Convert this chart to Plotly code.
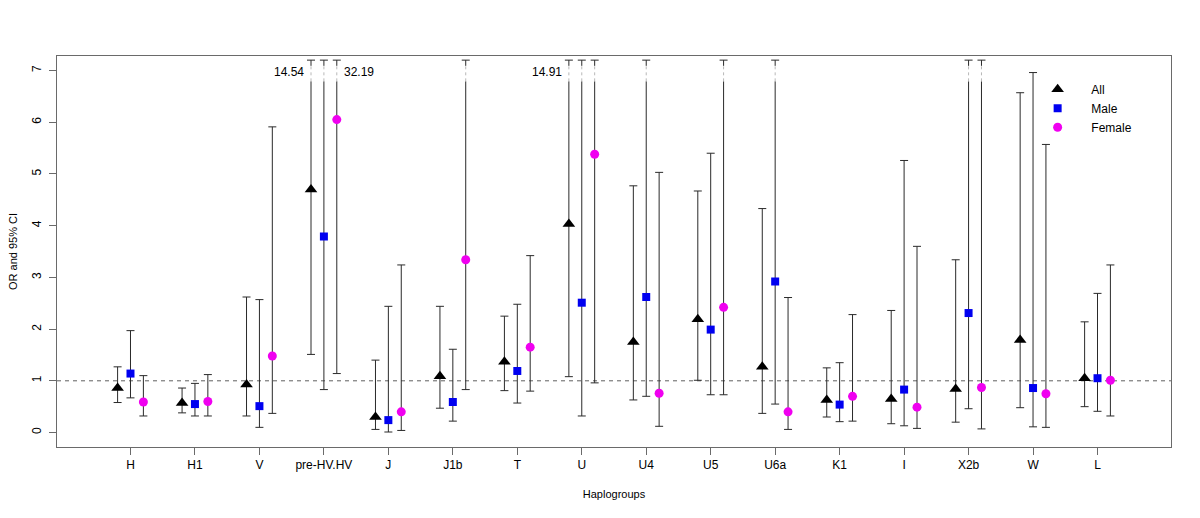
import plotly.graph_objects as go

haplogroups = ["H", "H1", "V", "pre-HV.HV", "J", "J1b", "T", "U", "U4", "U5",
               "U6a", "K1", "I", "X2b", "W", "L"]

INF = None  # upper limit beyond the plotted scale (not labelled)

all_or =    [0.86, 0.57, 0.93, 4.70, 0.30, 1.09, 1.37, 4.03, 1.75, 2.19, 1.27, 0.63, 0.65, 0.84, 1.79, 1.05]
all_lo =    [0.58, 0.38, 0.32, 1.51, 0.06, 0.47, 0.81, 1.08, 0.63, 1.01, 0.37, 0.30, 0.17, 0.20, 0.48, 0.50]
all_hi =    [1.27, 0.86, 2.62, 14.54, 1.40, 2.44, 2.25, 14.91, 4.77, 4.67, 4.33, 1.25, 2.36, 3.34, 6.57, 2.14]

male_or =   [1.14, 0.55, 0.51, 3.79, 0.24, 0.59, 1.19, 2.51, 2.62, 1.99, 2.92, 0.54, 0.83, 2.31, 0.86, 1.05]
male_lo =   [0.67, 0.32, 0.10, 0.83, 0.01, 0.22, 0.57, 0.32, 0.70, 0.73, 0.55, 0.21, 0.13, 0.46, 0.11, 0.41]
male_hi =   [1.97, 0.95, 2.57, INF, 2.44, 1.61, 2.48, INF, INF, 5.40, INF, 1.35, 5.26, INF, 6.96, 2.69]

female_or = [0.59, 0.60, 1.48, 6.05, 0.40, 3.34, 1.65, 5.38, 0.76, 2.42, 0.40, 0.70, 0.49, 0.87, 0.75, 1.01]
female_lo = [0.32, 0.32, 0.37, 1.14, 0.04, 0.83, 0.80, 0.96, 0.12, 0.73, 0.06, 0.22, 0.08, 0.07, 0.10, 0.32]
female_hi = [1.10, 1.12, 5.91, 32.19, 3.24, INF, 3.42, INF, 5.03, INF, 2.61, 2.28, 3.60, INF, 5.57, 3.24]

Y_MAX_DRAW = 7.2      # clipped upper limit drawn at this height
BREAK_LO, BREAK_HI = 6.79, 7.09
LABEL_Y = 6.98

series = [
    ("All", all_or, all_lo, all_hi, -0.2, "triangle-up", 11, "black"),
    ("Male", male_or, male_lo, male_hi, 0.0, "square", 8, "#0000F0"),
    ("Female", female_or, female_lo, female_hi, 0.2, "circle", 9, "#F000F0"),
]

FONT = "Liberation Sans, Arial, Helvetica, sans-serif"
BAR_COLOR = "#2a2a2a"
PAD = "\u00a0" * 2

fig = go.Figure()
break_x, break_y = [], []
annotations = []
for name, orv, lo, hi, off, sym, size, col in series:
    xs = [i + 1 + off for i in range(len(haplogroups))]
    up_draw = [Y_MAX_DRAW if (h is None or h > Y_MAX_DRAW) else h for h in hi]
    fig.add_trace(go.Scatter(
        x=xs, y=orv, mode="markers", name=PAD + name,
        marker=dict(symbol=sym, size=size, color=col, line=dict(width=0)),
        error_y=dict(type="data", symmetric=False,
                     array=[u - o for u, o in zip(up_draw, orv)],
                     arrayminus=[o - l for o, l in zip(orv, lo)],
                     color=BAR_COLOR, thickness=1, width=4),
        cliponaxis=False,
    ))
    for x, h in zip(xs, hi):
        if h is None or h > Y_MAX_DRAW:
            break_x += [x, x, None]
            break_y += [BREAK_LO, BREAK_HI, None]
            if h is not None:
                left = off < 0
                annotations.append(dict(
                    x=x, y=LABEL_Y, text=f"{h:.2f}", showarrow=False,
                    xanchor="right" if left else "left",
                    xshift=-5 if left else 5,
                    font=dict(family=FONT, size=12, color="black")))

fig.add_trace(go.Scatter(x=break_x, y=break_y, mode="lines",
                         line=dict(color="white", width=3),
                         showlegend=False, hoverinfo="skip"))
fig.add_trace(go.Scatter(x=break_x, y=break_y, mode="lines",
                         line=dict(color="#b8b8b8", width=1, dash="dot"),
                         showlegend=False, hoverinfo="skip"))

fig.add_shape(type="line", xref="paper", x0=0, x1=1, yref="y", y0=1, y1=1,
              line=dict(color="#606060", width=1, dash="4px,4px"), layer="below")

fig.update_layout(
    width=1200, height=518,
    margin=dict(l=57, r=29, t=56, b=71),
    paper_bgcolor="white", plot_bgcolor="white",
    font=dict(family=FONT, size=12, color="black"),
    annotations=annotations,
    showlegend=True,
    legend=dict(x=0.874, y=0.952, xanchor="left", yanchor="top",
                bgcolor="rgba(0,0,0,0)", borderwidth=0,
                font=dict(family=FONT, size=12), itemwidth=44,
                traceorder="normal"),
    xaxis=dict(range=[-0.14, 17.14], tickmode="array", automargin=False,
               tickvals=list(range(1, len(haplogroups) + 1)), ticktext=haplogroups,
               showgrid=False, zeroline=False, showline=True, mirror=True,
               linecolor="#6a6a6a", linewidth=1,
               ticks="outside", ticklen=7, tickcolor="#6a6a6a",
               title=dict(text="Haplogroups", standoff=18,
                          font=dict(family=FONT, size=11)),
               tickfont=dict(family=FONT, size=12)),
    yaxis=dict(range=[-0.28, 7.28], tickmode="array", tickvals=list(range(0, 8)),
               automargin=False,
               showgrid=False, zeroline=False, showline=True, mirror=True,
               linecolor="#6a6a6a", linewidth=1,
               ticks="outside", ticklen=7, tickcolor="#6a6a6a",
               tickangle=-90, ticklabelstandoff=3,
               title=dict(text="OR and 95% CI", standoff=10,
                          font=dict(family=FONT, size=11)),
               tickfont=dict(family=FONT, size=12)),
)

fig.write_html("out.html", config={"displayModeBar": False},
               post_script="document.body.style.margin='0';document.body.style.overflow='hidden';")
